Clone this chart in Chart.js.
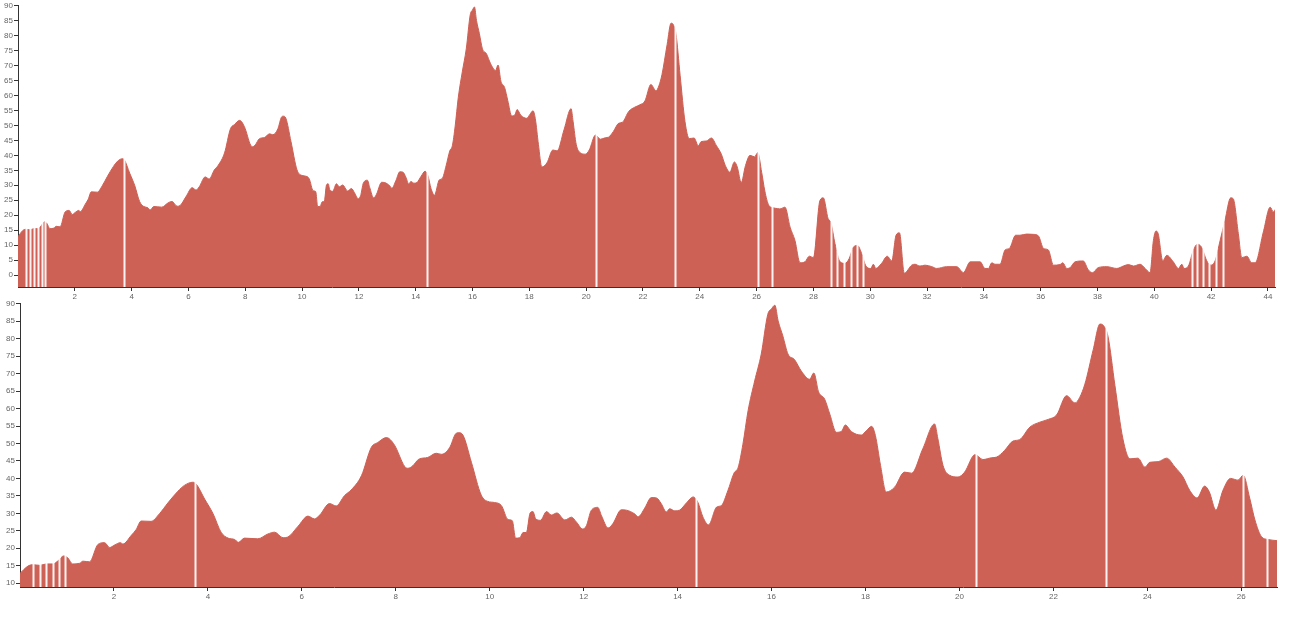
<!DOCTYPE html>
<html>
<head>
<meta charset="utf-8">
<script src="https://cdn.jsdelivr.net/npm/chart.js@4"></script>
<style>
  html, body { margin: 0; padding: 0; background: #fff; }
  #wrap { position: relative; width: 1292px; height: 622px; overflow: hidden; }
  canvas { position: absolute; left: 0; }
  #topChart { top: 0; }
  #bottomChart { top: 298px; }
</style>
</head>
<body>
<div id="wrap">
  <canvas id="topChart" width="1292" height="300"></canvas>
  <canvas id="bottomChart" width="1292" height="324"></canvas>
</div>
<script>
(function() {
  'use strict';

  // --- Profile data (distance, elevation) ---
  const distance = [
    0, 0.17, 0.27, 0.42, 0.56, 0.70, 0.81, 0.93, 1.02, 1.12, 1.27, 1.34, 1.48, 1.66, 1.80, 1.91,
    2.01, 2.14, 2.19, 2.37, 2.47, 2.58, 2.79, 2.97, 3.15, 3.36, 3.50, 3.68, 3.75, 3.93, 4.11, 4.28,
    4.43, 4.57, 4.65, 4.78, 5.06, 5.28, 5.42, 5.60, 5.70, 5.92, 6.13, 6.27, 6.38, 6.59, 6.73, 6.91,
    7.05, 7.27, 7.48, 7.62, 7.80, 7.97, 8.19, 8.26, 8.36, 8.49, 8.68, 8.86, 8.97, 9.15, 9.27, 9.34,
    9.43, 9.61, 9.82, 9.96, 10.10, 10.25, 10.39, 10.48, 10.55, 10.64, 10.71, 10.78, 10.86, 10.92, 10.98, 11.08,
    11.21, 11.31, 11.43, 11.60, 11.74, 11.84, 11.98, 12.06, 12.16, 12.30, 12.38, 12.52, 12.62, 12.80, 12.91, 13.09,
    13.16, 13.30, 13.44, 13.55, 13.65, 13.76, 13.83, 13.94, 14.04, 14.19, 14.33, 14.43, 14.54, 14.66, 14.83, 14.93,
    15.07, 15.20, 15.29, 15.39, 15.50, 15.64, 15.78, 15.92, 16.00, 16.07, 16.14, 16.24, 16.35, 16.49, 16.63, 16.81,
    16.90, 17.00, 17.13, 17.24, 17.38, 17.49, 17.57, 17.70, 17.91, 18.02, 18.13, 18.21, 18.32, 18.44, 18.62, 18.83,
    18.98, 19.22, 19.47, 19.54, 19.65, 19.79, 19.97, 20.11, 20.33, 20.50, 20.68, 20.79, 20.96, 21.14, 21.28, 21.50,
    21.71, 21.89, 22.07, 22.28, 22.46, 22.56, 22.67, 22.85, 22.99, 23.07, 23.16, 23.31, 23.48, 23.63, 23.80, 23.95,
    24.05, 24.23, 24.41, 24.59, 24.76, 24.90, 25.06, 25.22, 25.32, 25.46, 25.61, 25.77, 25.93, 26.04, 26.18, 26.29,
    26.43, 26.57, 26.74, 26.82, 27.00, 27.18, 27.35, 27.53, 27.70, 27.86, 28.00, 28.23, 28.35, 28.52, 28.61, 28.76,
    28.94, 29.11, 29.26, 29.40, 29.55, 29.70, 29.85, 30.02, 30.11, 30.20, 30.40, 30.60, 30.76, 30.91, 31.03, 31.20,
    31.46, 31.58, 31.75, 31.93, 32.17, 32.34, 32.69, 33.05, 33.28, 33.52, 33.87, 34.04, 34.16, 34.28, 34.39, 34.57,
    34.75, 34.90, 35.12, 35.27, 35.51, 35.74, 35.92, 36.10, 36.27, 36.45, 36.68, 36.78, 36.92, 37.04, 37.21, 37.50,
    37.68, 37.83, 38.03, 38.33, 38.68, 38.91, 39.09, 39.27, 39.50, 39.68, 39.85, 39.97, 40.06, 40.14, 40.30, 40.44,
    40.67, 40.85, 40.97, 41.05, 41.20, 41.38, 41.52, 41.67, 41.85, 42.00, 42.14, 42.32, 42.49, 42.69, 42.78, 42.96,
    43.08, 43.26, 43.43, 43.55, 43.84, 44.08, 44.19, 44.28
  ];
  const elevation = [
    12.8, 14.9, 15.3, 15.1, 15.5, 15.5, 16.4, 17.8, 17.2, 15.5, 15.7, 16.3, 16.1, 21.1, 21.6, 20.2,
    20.9, 21.6, 21.2, 23.7, 25.3, 27.8, 27.7, 29.9, 33.0, 36.3, 38.0, 38.9, 38.4, 34.1, 29.9, 24.6,
    22.9, 22.5, 21.7, 22.9, 22.7, 24.1, 24.6, 23.0, 23.2, 26.3, 29.2, 28.4, 29.5, 32.8, 32.1, 35.1,
    36.7, 40.8, 48.9, 50.3, 51.7, 49.6, 43.4, 42.9, 43.6, 45.5, 46.0, 47.2, 46.9, 48.9, 52.7, 53.1,
    52.4, 44.6, 35.2, 33.4, 33.1, 32.2, 28.2, 27.9, 22.9, 23.0, 24.5, 24.5, 30.1, 30.5, 28.4, 28.0,
    30.5, 29.5, 30.1, 28.1, 28.9, 27.6, 25.5, 26.5, 30.8, 31.7, 29.3, 25.8, 27.0, 31.0, 30.9, 29.8,
    29.0, 31.5, 34.5, 34.4, 32.8, 30.4, 31.3, 30.7, 30.9, 33.0, 34.7, 33.2, 28.9, 26.7, 31.8, 32.2,
    36.5, 41.5, 43.2, 49.8, 59.4, 67.9, 75.6, 87.0, 88.6, 89.6, 85.1, 80.8, 75.6, 74.0, 70.8, 68.4,
    70.2, 64.8, 62.7, 58.4, 53.2, 53.5, 55.3, 53.4, 52.4, 53.7, 54.9, 52.3, 43.7, 36.1, 37.5, 41.8,
    41.5, 48.5, 55.6, 51.4, 43.7, 40.9, 40.4, 41.8, 46.8, 45.4, 45.9, 46.1, 48.0, 50.7, 51.1, 54.7,
    56.1, 56.9, 58.2, 63.7, 61.6, 63.2, 67.0, 77.0, 84.2, 83.7, 80.8, 66.6, 51.3, 45.6, 45.8, 43.2,
    44.6, 44.8, 45.8, 43.2, 40.4, 36.6, 34.4, 37.8, 36.1, 30.9, 36.6, 40.0, 39.5, 40.9, 34.3, 28.1,
    23.3, 22.5, 22.2, 22.1, 22.7, 16.0, 11.6, 4.1, 4.4, 6.3, 5.8, 24.9, 25.8, 18.8, 17.7, 10.5,
    4.4, 3.9, 5.5, 9.2, 9.9, 7.2, 3.0, 2.2, 3.6, 2.2, 3.9, 6.3, 4.7, 13.3, 14.1, 0.6,
    3.3, 3.6, 3.0, 3.3, 2.8, 2.2, 2.8, 2.8, 0.8, 4.4, 4.4, 2.2, 2.2, 4.1, 3.6, 3.6,
    8.4, 8.9, 13.3, 13.3, 13.7, 13.6, 13.1, 8.9, 8.4, 3.3, 3.5, 4.1, 2.2, 2.5, 4.4, 4.7,
    1.7, 0.8, 2.5, 2.8, 2.2, 3.0, 3.5, 3.0, 3.6, 2.2, 0.8, 11.6, 14.7, 13.7, 4.7, 6.6,
    4.4, 2.2, 3.6, 2.2, 3.0, 8.4, 10.3, 9.2, 4.7, 3.3, 4.7, 11.6, 18.3, 25.8, 25.5, 13.8,
    5.8, 6.3, 4.1, 4.1, 14.4, 22.7, 21.1, 22.2
  ];

  // --- White gap marks along the profile ---
  const gaps = [
    0.27, 0.42, 0.56, 0.70, 0.84, 0.95, 3.72, 14.40, 20.35, 23.12, 26.04, 26.55,
    28.61, 28.82, 29.08, 29.32, 29.53, 29.76,
    41.32, 41.52, 41.71, 41.94, 42.18, 42.41
  ];

  // --- Tick labels ---
  const topXTicks = [2, 4, 6, 8, 10, 12, 14, 16, 18, 20, 22, 24, 26, 28, 30, 32, 34, 36, 38, 40, 42, 44];
  const bottomXTicks = [2, 4, 6, 8, 10, 12, 14, 16, 18, 20, 22, 24, 26];
  const topYTicks = [0, 5, 10, 15, 20, 25, 30, 35, 40, 45, 50, 55, 60, 65, 70, 75, 80, 85, 90];
  const bottomYTicks = [10, 15, 20, 25, 30, 35, 40, 45, 50, 55, 60, 65, 70, 75, 80, 85, 90];

  const topXMax = 44.25, topYMin = -4;
  const bottomXMax = 26.76, bottomYMin = 8.9;
  const yMax = 90;

  const fillColor = '#cd6155';
  const axisColor = '#333';
  const labelColor = '#666';
  const points = distance.map((d, i) => ({ x: d, y: elevation[i] }));

  const gapLines = {
    id: 'gapLines',
    afterDatasetsDraw(chart) {
      const { ctx, chartArea, scales } = chart;
      ctx.save();
      ctx.beginPath();
      ctx.rect(chartArea.left, chartArea.top, chartArea.right - chartArea.left, chartArea.bottom - chartArea.top);
      ctx.clip();
      ctx.strokeStyle = 'rgba(255,255,255,0.92)';
      ctx.lineWidth = 2;
      gaps.forEach(g => {
        const x = Math.round(scales.x.getPixelForValue(g)) + 0.5;
        ctx.beginPath();
        ctx.moveTo(x, chartArea.top);
        ctx.lineTo(x, chartArea.bottom);
        ctx.stroke();
      });
      ctx.restore();
    }
  };

  const useTicks = values => scale => {
    scale.ticks = values.map(v => ({ value: v }));
  };

  const tickFont = { family: 'Liberation Sans, Arial, sans-serif', size: 8 };

  function makeChart(id, xMax, yMin, xTicks, yTicks, yWidth, pad) {
    return new Chart(document.getElementById(id), {
      type: 'line',
      data: {
        datasets: [{
          data: points,
          backgroundColor: fillColor,
          borderColor: fillColor,
          borderWidth: 1,
          fill: 'start',
          pointRadius: 0,
          cubicInterpolationMode: 'monotone'
        }]
      },
      options: {
        responsive: false,
        animation: false,
        layout: { padding: pad },
        plugins: { legend: { display: false }, tooltip: { enabled: false } },
        scales: {
          x: {
            type: 'linear',
            min: 0,
            max: xMax,
            z: 1,
            afterBuildTicks: useTicks(xTicks),
            afterFit: s => { s.height = 13; },
            grid: { drawOnChartArea: false, drawTicks: true, tickLength: 4, color: axisColor },
            border: { display: true, color: axisColor, width: 1 },
            ticks: { autoSkip: false, maxRotation: 0, padding: 1, color: labelColor, font: tickFont }
          },
          y: {
            type: 'linear',
            min: yMin,
            max: yMax,
            z: 1,
            afterBuildTicks: useTicks(yTicks),
            afterFit: s => { s.width = yWidth; },
            grid: { drawOnChartArea: false, drawTicks: true, tickLength: 4, color: axisColor },
            border: { display: true, color: axisColor, width: 1 },
            ticks: { autoSkip: false, padding: 1, color: labelColor, font: tickFont }
          }
        }
      },
      plugins: [gapLines]
    });
  }

  makeChart('topChart', topXMax, topYMin, topXTicks, topYTicks, 18, { top: 0, right: 17, bottom: 0, left: 0 });
  makeChart('bottomChart', bottomXMax, bottomYMin, bottomXTicks, bottomYTicks, 20, { top: 0, right: 15, bottom: 22, left: 0 });
})();
</script>
</body>
</html>
